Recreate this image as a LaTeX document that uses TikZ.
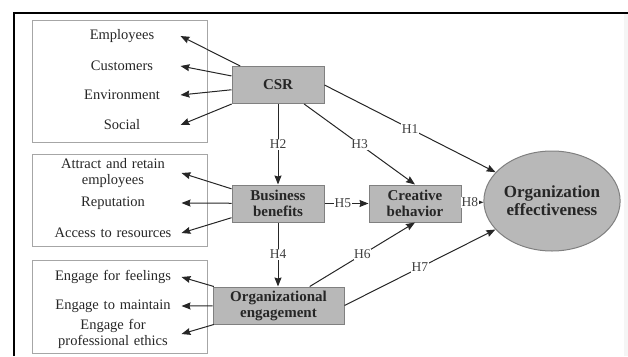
\documentclass[tikz,border=0pt]{standalone}
\usepackage{fontspec}
\setmainfont{Liberation Serif}
\usetikzlibrary{positioning,arrows.meta,shapes.geometric}

\begin{document}
\begin{tikzpicture}[x=1pt,y=-1pt,->,>={Stealth[length=9pt,width=7pt,inset=1pt]},
  line width=1pt,draw=black!85,
  item/.style={text=black!85,font=\fontsize{14.5}{15.5}\selectfont,
    align=center,inner sep=0pt},
  factor/.style={rectangle,draw=black!50,fill=black!28,line width=1pt,
    font=\bfseries\fontsize{15}{16}\selectfont,align=center,text=black!85,
    minimum width=92pt,minimum height=37pt,inner sep=0pt},
  hyp/.style={fill=white,inner xsep=0.5pt,inner ysep=1pt,text=black!75,
    font=\fontsize{13.5}{14}\selectfont},
  group/.style={-,draw=black!35,line width=1pt}]
  \useasboundingbox (0,0) rectangle (628,356);
  \fill[black!4] (624,13) rectangle (628,356);
  \draw[-,black,line width=1.3pt] (14,356) -- (14,13) -- (628,13);

  % item groups
  \draw[group] (32,20) rectangle (207,142);
  \draw[group] (32,154) rectangle (207,246);
  \draw[group] (32,260) rectangle (207,353);

  % main factors
  \node[factor] (csr) at (278,85) {CSR};
  \node[factor] (bb) at (278,203.5) {Business\\benefits};
  \node[factor,minimum width=131pt] (oe) at (278.5,305.5) {Organizational\\engagement};
  \node[factor] (cb) at (415,203.5) {Creative\\behavior};
  \node[ellipse,draw=black!50,fill=black!28,line width=1pt,minimum width=112pt,
    minimum height=100pt,inner sep=0pt,align=center,text=black!85,
    font=\bfseries\fontsize{17}{18}\selectfont] (org) at (552,201)
    {Organization\\effectiveness};

  % CSR items
  \node[item,text width=116pt] (emp) at (122,36) {Employees};
  \node[item,text width=116pt] (cus) at (122,66) {Customers};
  \node[item,text width=116pt] (env) at (122,95) {Environment};
  \node[item,text width=116pt] (soc) at (122,125) {Social};

  % business benefit items
  \node[item,text width=136pt] (att) at (113,173) {Attract and retain\\employees};
  \node[item,text width=136pt] (rep) at (113,203) {Reputation};
  \node[item,text width=136pt] (acc) at (113,233) {Access to resources};

  % engagement items
  \node[item,text width=136pt] (fee) at (113,277) {Engage for feelings};
  \node[item,text width=136pt] (mai) at (113,306) {Engage to maintain};
  \node[item,text width=136pt] (eth) at (113,334) {Engage for\\professional ethics};

  \foreach \t in {emp,cus,env,soc} \draw (csr) -- (\t.east);
  \foreach \t in {att,rep,acc} \draw (bb) -- (\t.east);
  \foreach \t in {fee,mai,eth} \draw (oe) -- (\t.east);

  % hypotheses
  \path (csr.east) edge node[hyp] {H1} (org);
  \path (csr) edge node[hyp] {H2} (bb);
  \path (csr) edge node[hyp] {H3} (cb.north);
  \path (bb) edge node[hyp] {H4} (oe.north -| bb);
  \path (bb) edge node[hyp,pos=0.42] {H5} (cb);
  \path (oe) edge node[hyp] {H6} (cb.south);
  \path (oe.east) edge node[hyp] {H7} (org);
  \path (cb) edge node[hyp,pos=0.38] {H8} (org);
\end{tikzpicture}
\end{document}
